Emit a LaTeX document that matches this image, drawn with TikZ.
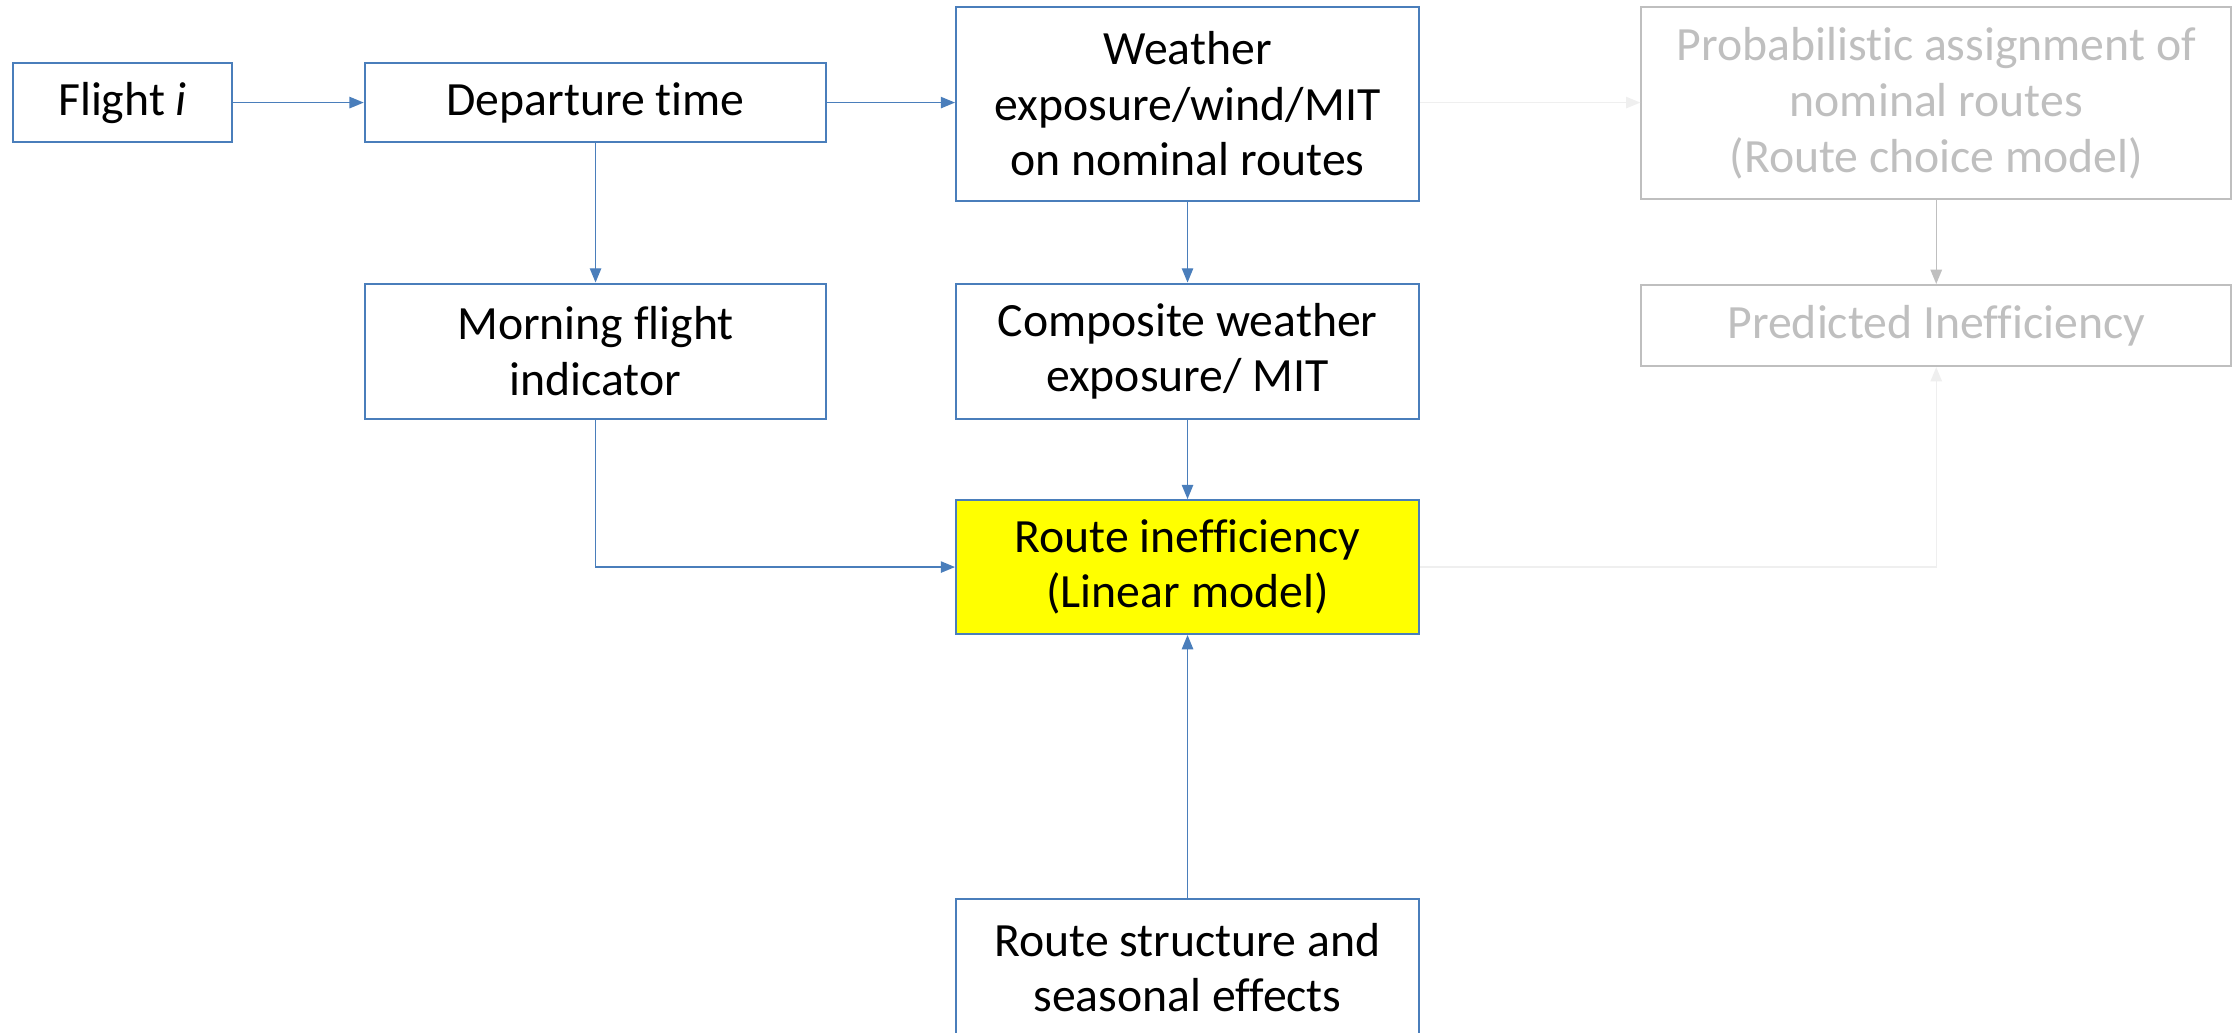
\documentclass[tikz,border=0pt]{standalone}
\usepackage{fontspec}
\setmainfont[Ligatures={NoCommon}]{Carlito}
\usetikzlibrary{arrows.meta}
\definecolor{boxblue}{HTML}{4A7EBB}
\definecolor{fadegray}{HTML}{BFBFBF}
\definecolor{faintgray}{HTML}{EFEFEF}
\definecolor{hiyellow}{HTML}{FFFF00}
\tikzset{
  box/.style={draw=boxblue, line width=1.4pt, fill=white, align=center,
    font=\fontsize{33.5}{39}\selectfont, inner sep=0pt},
  fadebox/.style={box, draw=fadegray, text=fadegray},
  flow/.style={draw=boxblue, line width=1pt, -{Triangle[length=10pt,width=8pt]}},
  fadeflow/.style={flow, draw=fadegray},
  faintflow/.style={flow, draw=faintgray},
}
\begin{document}
\begin{tikzpicture}[x=1pt,y=-1pt]
\useasboundingbox (0,0) rectangle (1568,725);

% blue input and model boxes
\node[box, minimum width=154pt, minimum height=56pt] (flight) at (86,72) {Flight \textit{i}};
\node[box, minimum width=324pt, minimum height=56pt] (dep) at (418,72) {Departure time};
\node[box, minimum width=325pt, minimum height=136pt] (wx) at (833.5,73)
  {Weather\\exposure/wind/MIT\\on nominal routes};
\node[box, minimum width=324pt, minimum height=95pt] (morning) at (418,246.5)
  {Morning flight\\indicator};
\node[box, minimum width=325pt, minimum height=95pt] (comp) at (833.5,246.5)
  {Composite weather\\exposure/ MIT};
\node[box, fill=hiyellow, minimum width=325pt, minimum height=94pt] (ineff) at (833.5,398)
  {Route inefficiency\\(Linear model)};
\node[box, minimum width=325pt, minimum height=96pt] (struct) at (833.5,679)
  {Route structure and\\seasonal effects};

% greyed-out prediction branch
\node[fadebox, minimum width=414pt, minimum height=135pt] (prob) at (1359,72.5)
  {Probabilistic assignment of\\nominal routes\\(Route choice model)};
\node[fadebox, minimum width=414pt, minimum height=57pt] (pred) at (1359,228.5)
  {Predicted Inefficiency};

% connectors
\draw[flow] (flight.east) -- (dep.west);
\draw[flow] (dep.east) -- (dep.east -| wx.west);
\draw[flow] (dep.south) -- (morning.north);
\draw[flow] (wx.south) -- (comp.north);
\draw[flow] (comp.south) -- (ineff.north);
\draw[flow] (morning.south) |- (ineff.west);
\draw[flow] (struct.north) -- (ineff.south);
\draw[faintflow] (dep.east -| wx.east) -- (dep.east -| prob.west);
\draw[fadeflow] (prob.south) -- (pred.north);
\draw[faintflow] (ineff.east) -| (pred.south);
\end{tikzpicture}
\end{document}
